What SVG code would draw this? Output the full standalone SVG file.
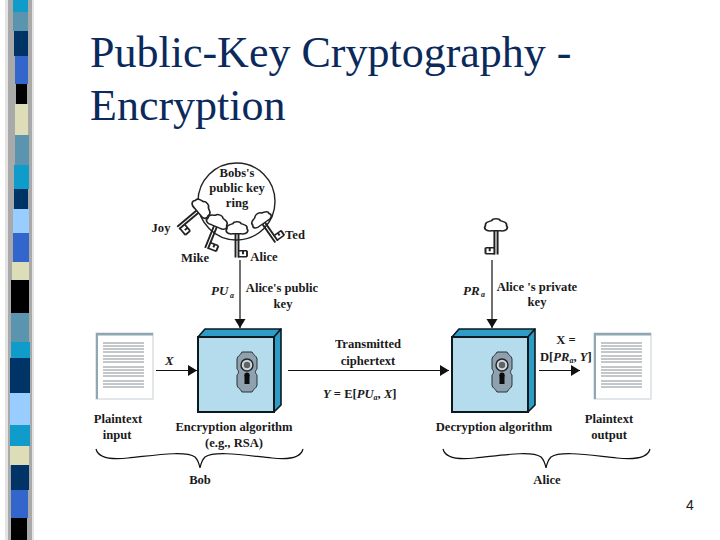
<svg xmlns="http://www.w3.org/2000/svg" width="720" height="540" viewBox="0 0 720 540">
<style>
text{font-family:"Liberation Serif","Times New Roman",serif;fill:#1a1a1a}
.l{font-size:12.600px;font-weight:bold;text-anchor:middle}
.i{font-style:italic}
.s{font-size:8px;font-style:italic;font-weight:bold}
.t{font-size:44px;fill:#0b2a5c;font-weight:normal}
.c{fill:none;stroke:#111;stroke-width:1.2}
.front{fill:#b5dcec;stroke:#0c1a20;stroke-width:2}
.side{fill:#2f9cc6;stroke:#0c1a20;stroke-width:1.6;stroke-linejoin:round}
.plate{fill:#8fa0ae;stroke:#2b3238;stroke-width:1}
.key{fill:#fff;stroke:#222;stroke-width:1.7;stroke-linejoin:round}
.kl{fill:none;stroke:#222;stroke-width:1.9}
.doc{fill:#fff;stroke:#c5cfd3;stroke-width:1}
.ln{stroke:#8a9095;stroke-width:1.1}
</style>
<defs>
<marker id="ah" markerUnits="userSpaceOnUse" markerWidth="11" markerHeight="12" refX="9" refY="5.500" orient="auto"><path d="M0 0L9 5.500L0 11Z" fill="#111"/></marker>
<g id="keyg">
<path class="kl" d="M-1.500 8V36M1.500 8V36"/>
<path class="kl" d="M-1 35H-10M-1 28H-10M-6 28V32M-10 28V35"/>
<path class="key" d="M-4 8C-10 9-12 5-10 2C-11-3-6-3-4-4C-3-7 3-7 4-4C6-3 11-3 10 2C12 5 10 9 4 8Z"/>
</g>
<g id="lock">
<path class="plate" d="M-5 -20H5C6 -17 10 -16 10 -13V-3C8 -1 8 1 10 3V13C10 16 6 17 5 20H-5C-6 17 -10 16 -10 13V3C-8 1 -8 -1 -10 -3V-13C-10 -16 -6 -17 -5 -20Z"/>
<circle cx="0" cy="-7" r="6" fill="#cfd6da" stroke="#222" stroke-width="1.400"/>
<circle cx="0" cy="-7" r="3.200" fill="#5c6468"/>
<rect x="-2.500" y="3" width="5" height="9" fill="#0c0c0c"/>
<circle cx="0" cy="3" r="2.600" fill="#0c0c0c"/>
</g>
<g id="page">
<rect class="doc" x="0" y="0" width="57" height="66"/>
<path d="M0 0H57V2.500H2V66H0Z" fill="#8ea7b3"/>
<g class="ln">
<path d="M7 10H48M7 13H48M7 16H48M7 19H48"/>
<path d="M7 23H48M7 26H48M7 29H48"/>
<path d="M7 34H48M7 37H48M7 40H48M7 43H48"/>
<path d="M7 48H48M7 51H48M7 54H48"/>
</g>
</g>
</defs>
<rect width="720" height="540" fill="#fff"/>
<g id="sidebar">
<rect x="5" y="0" width="29" height="540" fill="#e4e4e4"/>
<rect x="8" y="0" width="24" height="540" fill="#a9a9a9"/>
<rect x="13" y="0" width="15" height="12" fill="#0f9ccb"/>
<rect x="13" y="12" width="15" height="19" fill="#5a94ae"/>
<rect x="14" y="31" width="14" height="25" fill="#003366"/>
<rect x="15" y="56" width="13" height="28" fill="#3366cc"/>
<rect x="16" y="84" width="11" height="20" fill="#000"/>
<rect x="15" y="104" width="13" height="31" fill="#ddddb8"/>
<rect x="15" y="135" width="14" height="30" fill="#5a94ae"/>
<rect x="14" y="165" width="15" height="24" fill="#0f9ccb"/>
<rect x="14" y="189" width="14" height="20" fill="#003366"/>
<rect x="13" y="209" width="16" height="24" fill="#99ccff"/>
<rect x="13" y="233" width="16" height="29" fill="#3366cc"/>
<rect x="12" y="262" width="17" height="18" fill="#ddddb8"/>
<rect x="11" y="280" width="18" height="33" fill="#000"/>
<rect x="11" y="313" width="18" height="29" fill="#5a94ae"/>
<rect x="11" y="342" width="19" height="16" fill="#0f9ccb"/>
<rect x="10" y="358" width="20" height="35" fill="#003366"/>
<rect x="10" y="393" width="20" height="32" fill="#99ccff"/>
<rect x="10" y="425" width="20" height="21" fill="#0f9ccb"/>
<rect x="10" y="446" width="19" height="19" fill="#ddddb8"/>
<rect x="11" y="465" width="18" height="25" fill="#003366"/>
<rect x="11" y="490" width="17" height="28" fill="#3366cc"/>
<rect x="11" y="518" width="16" height="22" fill="#000"/>
</g>
<g id="title">
<text class="t" x="90" y="67">Public-Key Cryptography -</text>
<text class="t" x="90" y="120">Encryption</text>
</g>
<g id="connectors">
<path class="c" marker-end="url(#ah)" d="M240 260V328"/>
<path class="c" marker-end="url(#ah)" d="M492 260V328"/>
<path class="c" marker-end="url(#ah)" d="M156 370.500H197"/>
<path class="c" marker-end="url(#ah)" d="M288 370.500H449"/>
<path class="c" marker-end="url(#ah)" d="M539 370.500H580"/>
</g>
<g id="key-ring">
<circle cx="236.500" cy="201.500" r="38.500" fill="none" stroke="#222" stroke-width="1.400"/>
<text class="l" x="237" y="177">Bobs's</text>
<text class="l" x="237" y="192">public key</text>
<text class="l" x="237" y="207">ring</text>
<use href="#keyg" transform="translate(203 207) rotate(50) scale(-1 0.9)"/>
<use href="#keyg" transform="translate(218 220) rotate(22) scale(-1 0.85)"/>
<use href="#keyg" transform="translate(237 227) scale(-1 0.85)"/>
<use href="#keyg" transform="translate(260 218) rotate(-35) scale(-1 0.8)"/>
<text class="l" x="161" y="232">Joy</text>
<text class="l" x="195" y="262">Mike</text>
<text class="l" x="264" y="261">Alice</text>
<text class="l" x="295" y="239">Ted</text>
</g>
<g id="public-key-label">
<text x="211" y="295" font-size="13" font-weight="bold" class="i">PU</text><text class="s" x="230" y="298">a</text>
<text class="l" x="282" y="292">Alice's public</text>
<text class="l" x="283" y="308">key</text>
</g>
<g id="private-key">
<use href="#keyg" transform="translate(496 224) scale(1.050 0.85)"/>
<text x="463" y="295" font-size="13" font-weight="bold" class="i">PR</text><text class="s" x="481" y="297">a</text>
<text class="l" x="537" y="291">Alice 's private</text>
<text class="l" x="537" y="306">key</text>
</g>
<g id="plaintext-input">
<use href="#page" x="96" y="333"/>
<text class="l" x="118" y="423">Plaintext</text>
<text class="l" x="117" y="439">input</text>
<text x="165" y="365" font-size="13" font-weight="bold" class="i">X</text>
</g>
<g id="encryption">
<path class="side" d="M198 337L205 329H281L274 337Z"/>
<path class="side" d="M274 337L281 329V405L274 412Z"/>
<rect class="front" x="198" y="337" width="76" height="75"/>
<use href="#lock" x="247" y="372"/>
<text class="l" x="234" y="431">Encryption algorithm</text>
<text class="l" x="234" y="447">(e.g., RSA)</text>
</g>
<g id="ciphertext">
<text class="l" x="368" y="348">Transmitted</text>
<text class="l" x="368" y="365">ciphertext</text>
<text x="323" y="398" font-size="12.600" font-weight="bold"><tspan class="i">Y</tspan> = E[<tspan class="i">PU</tspan><tspan class="i" font-size="8" dy="2">a</tspan><tspan dy="-2">, </tspan><tspan class="i">X</tspan>]</text>
</g>
<g id="decryption">
<path class="side" d="M452 337L459 329H535L528 337Z"/>
<path class="side" d="M528 337L535 329V405L528 412Z"/>
<rect class="front" x="452" y="337" width="76" height="75"/>
<use href="#lock" x="502" y="372"/>
<text class="l" x="494" y="431">Decryption algorithm</text>
<text class="l" x="566" y="344">X =</text>
<text x="540" y="361" font-size="12.600" font-weight="bold">D[<tspan class="i">PR</tspan><tspan class="i" font-size="8" dy="2">a</tspan><tspan dy="-2">, </tspan><tspan class="i">Y</tspan>]</text>
</g>
<g id="plaintext-output">
<use href="#page" x="594" y="333"/>
<text class="l" x="609" y="423">Plaintext</text>
<text class="l" x="609" y="439">output</text>
</g>
<g id="bob">
<path class="c" d="M96 449C98 457 110 460 128 458C150 456 185 450 195 457C198 460 199 463 200 468C201 463 202 460 205 457C215 450 250 456 272 458C290 460 301 457 303 449"/>
<text class="l" x="200" y="484">Bob</text>
</g>
<g id="alice">
<path class="c" d="M443 449C445 457 457 460 475 458C497 456 531 450 541 457C544 460 545 463 546 468C547 463 548 460 551 457C561 450 595 456 617 458C636 460 648 457 650 449"/>
<text class="l" x="547" y="484">Alice</text>
</g>
<text id="page-number" x="690" y="510" font-size="14" text-anchor="middle" style="font-family:'Liberation Sans',Arial,sans-serif">4</text>
</svg>
